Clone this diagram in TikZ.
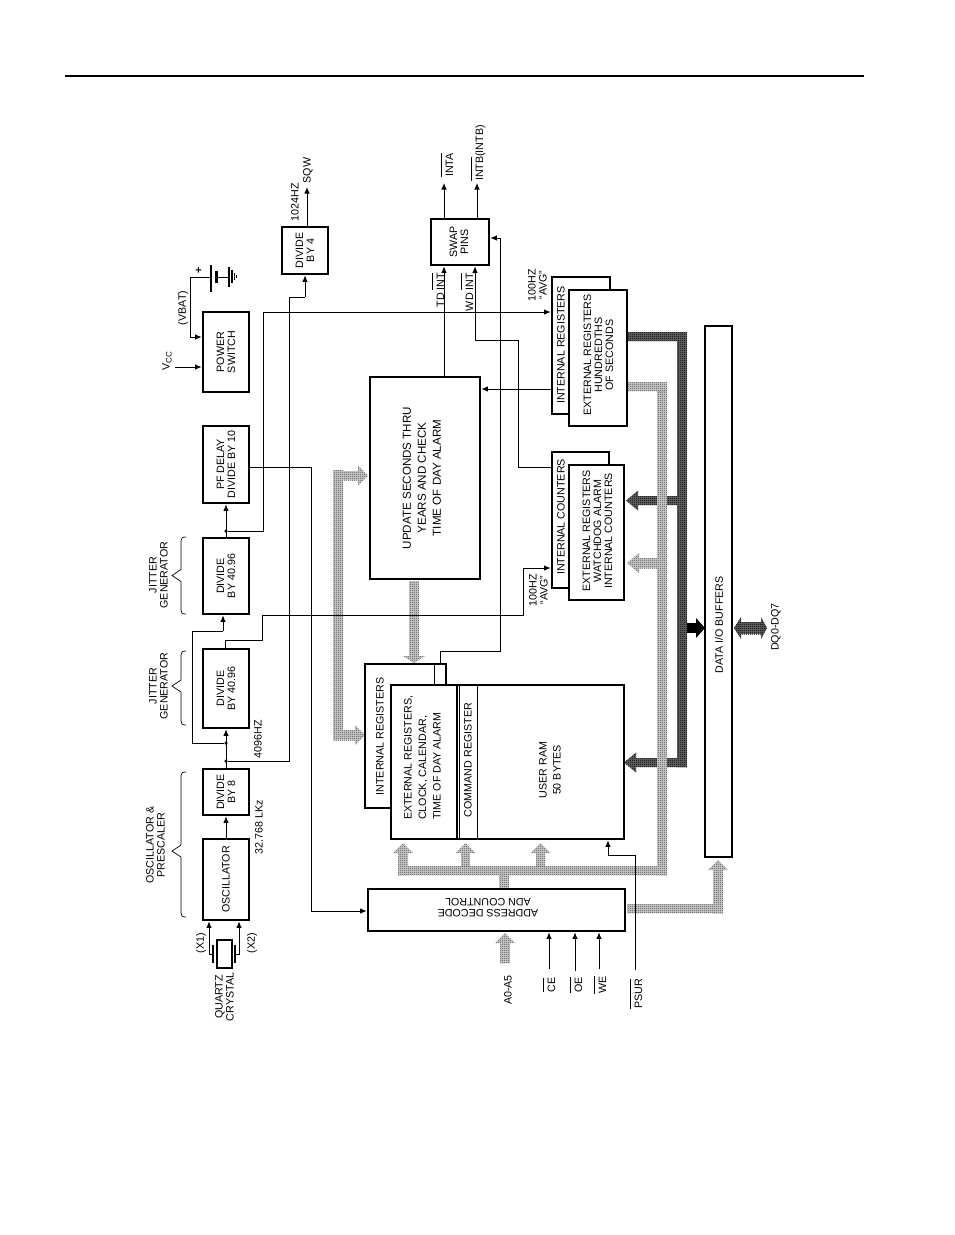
\documentclass[tikz,border=0pt]{standalone}
\usepackage{fontspec}
\setmainfont{Liberation Sans}
\usetikzlibrary{arrows.meta,patterns}
\pgfdeclarepatternformonly{chk}{\pgfqpoint{0pt}{0pt}}{\pgfqpoint{2pt}{2pt}}{\pgfqpoint{2pt}{2pt}}{%
  \pgfpathrectangle{\pgfqpoint{0pt}{0pt}}{\pgfqpoint{1pt}{1pt}}%
  \pgfpathrectangle{\pgfqpoint{1pt}{1pt}}{\pgfqpoint{1pt}{1pt}}%
  \pgfusepath{fill}}
\newcommand{\ovl}[1]{\setbox0=\hbox{#1}\leavevmode\rlap{\raisebox{1.55\ht0}{\rule{\wd0}{0.8pt}}}\box0}
\newcommand{\blk}[6][]{%
  \pgfmathsetmacro{\cxv}{(#3+#5)/2}\pgfmathsetmacro{\cyv}{(#4+#6)/2}%
  \pgfmathsetmacro{\wdv}{#5-#3}\pgfmathsetmacro{\htv}{#6-#4}%
  \node[blkbox,#1,minimum width=\wdv pt,minimum height=\htv pt] (#2) at (\cxv,\cyv) {};}
\newcommand{\brce}[3]{% y1 y2 tip y
  \draw[line width=0.7pt] (186,#1) .. controls (182,#1) and (181,#1+1) .. (181,#1+4)
    -- (181,#3-6) -- (172,#3) -- (181,#3+6) -- (181,#2-4) .. controls (181,#2-1) and (182,#2) .. (186,#2);}
\newcommand{\hdup}[3]{\path[#1] (#2,#3) -- (#2-10,#3+10) -- (#2+10,#3+10) -- cycle;}
\newcommand{\hdleft}[3]{\path[#1] (#2,#3) -- (#2+12,#3-10) -- (#2+12,#3+10) -- cycle;}
\newcommand{\hdright}[3]{\path[#1] (#2,#3) -- (#2-10,#3-10) -- (#2-10,#3+10) -- cycle;}
\tikzset{
  x=1pt,y=-1pt,
  blkbox/.style={draw=black,line width=2.6pt,fill=white,inner sep=0pt},
  lbl/.style={rotate=90,align=center,inner sep=0pt,font=\fontsize{10.7}{11}\selectfont},
  wire/.style={draw=black,line width=1pt},
  arr/.style={wire,-{Latex[length=6.5pt,width=5.5pt]}},
  dotn/.style={circle,fill=black,inner sep=0pt,minimum size=3.5pt},
  lightbus/.style={preaction={fill=black!18},pattern=chk,pattern color=black!72},
  darkbus/.style={preaction={fill=black!60},pattern=chk,pattern color=black},
}
\begin{document}
\begin{tikzpicture}
\useasboundingbox (0,0) rectangle (954,1235);
\draw[line width=1.8pt] (65,76) coordinate (rl) -- (864,76) coordinate (rr);

% dark bus
\path[darkbus] (627,332) rectangle (687,341);
\path[darkbus] (677,332) rectangle (687,767);
\path[darkbus] (636,758) rectangle (687,767);
\hdleft{darkbus}{624}{762.5}
\path[darkbus] (638,496) rectangle (677,505);
\hdleft{darkbus}{626}{500.5}
\fill[black] (687,623) rectangle (696,633);
\fill[black] (705,628) -- (696,618) -- (696,638) -- cycle;
\path[darkbus] (740,622) rectangle (762,634);
\path[darkbus] (734,628) -- (741,617) -- (741,639) -- cycle;
\path[darkbus] (767,628) -- (761,617) -- (761,639) -- cycle;

% light bus
\path[lightbus] (398,866) rectangle (667,875);
\path[lightbus] (657,382) rectangle (667,875);
\path[lightbus] (627,382) rectangle (667,391);
\path[lightbus] (499,875) rectangle (509,889);
\path[lightbus] (398,853) rectangle (408,875);
\hdup{lightbus}{403}{843}
\path[lightbus] (461,853) rectangle (470,866);
\hdup{lightbus}{465.5}{843}
\path[lightbus] (536,853) rectangle (545,866);
\hdup{lightbus}{540.5}{843}
\path[lightbus] (500,941) rectangle (510,963);
\hdup{lightbus}{505}{933}
\path[lightbus] (627,904) rectangle (723,913);
\path[lightbus] (713,870) rectangle (723,913);
\hdup{lightbus}{718}{860}
\path[lightbus] (639,558) rectangle (657,568);
\hdleft{lightbus}{627}{563}
\path[lightbus] (333,470) rectangle (343,740);
\path[lightbus] (343,471) rectangle (358,480);
\hdright{lightbus}{368}{475.5}
\path[lightbus] (343,730) rectangle (355,740);
\hdright{lightbus}{365}{735}
\path[lightbus] (409,581) rectangle (419,657);
\path[lightbus] (414,663) -- (403,656) -- (425,656) -- cycle;

% wires under boxes
\coordinate (j1) at (226,761);
\coordinate (j2) at (226,743);
\coordinate (j3) at (226,531);

% blocks
\blk{osc}{203}{839}{249}{920}
\blk{divE}{203}{769}{249}{815}
\blk{divA}{203}{649}{249}{728}
\blk{divB}{203}{538}{249}{614}
\blk{pf}{203}{426}{249}{503}
\blk{psw}{203}{312}{249}{392}
\blk{divF}{282}{227}{328}{274}
\blk{swap}{431}{219}{489}{265}
\blk{upd}{370}{377}{480}{579}
\blk{adr}{368}{889}{625}{931}
\blk{data}{705}{326}{732}{857}
\blk{intR}{365}{664}{446}{808}
\blk{extR}{391}{685}{624}{839}
\blk{intH}{552}{277}{610}{414}
\blk{extH}{569}{290}{627}{426}
\blk{intC}{552}{452}{609}{588}
\blk{extC}{569}{465}{624}{600}

\draw[line width=1.6pt] (457,685) -- (457,839);
\draw[line width=1pt] (459.8,685) -- (459.8,839);
\draw[line width=1pt] (477.5,685) -- (477.5,839);
\draw[line width=1pt] (434,664) -- (434,685);

% block texts
\node[lbl] (toscs) at (226,879.5) {OSCILLATOR};
\node[lbl] (tdive) at (226,792) {DIVIDE\\BY 8};
\node[lbl] (tdiva) at (226,688.5) {DIVIDE\\BY 40.96};
\node[lbl] (tdivb) at (226,576) {DIVIDE\\BY 40.96};
\node[lbl] (tpf) at (226,464.5) {PF DELAY\\DIVIDE BY 10};
\node[lbl] (tpsw) at (226,352) {POWER\\SWITCH};
\node[lbl] (tdivf) at (305,250.5) {DIVIDE\\BY 4};
\node[lbl] (tswap) at (459,242) {SWAP\\PINS};
\node[lbl,font=\fontsize{11.6}{15}\selectfont] (tupd) at (422,478) {UPDATE SECONDS THRU\\YEARS AND CHECK\\TIME OF DAY ALARM};
\node[lbl,rotate=90] (tadr) at (488,908) {ADDRESS DECODE\\ADN COUNTROL};
\node[lbl] (tdata) at (719,625) {DATA I/O BUFFERS};
\node[lbl] (tintr) at (380,736.5) {INTERNAL REGISTERS};
\node[lbl,align=left,font=\fontsize{10.7}{14.5}\selectfont,anchor=west] (textr) at (422.5,820) {EXTERNAL REGISTERS,\\CLOCK, CALENDAR,\\TIME OF DAY ALARM};
\node[lbl] (tcmd) at (468,760) {COMMAND REGISTER};
\node[lbl,font=\fontsize{10.7}{14}\selectfont] (tram) at (550,770) {USER RAM\\50 BYTES};
\node[lbl] (tinth) at (561,345) {INTERNAL REGISTERS};
\node[lbl] (texth) at (598.5,355) {EXTERNAL REGISTERS\\HUNDREDTHS\\OF SECONDS};
\node[lbl] (tintc) at (561,517) {INTERNAL COUNTERS};
\node[lbl] (textc) at (597.5,531) {EXTERNAL REGISTERS\\WATCHDOG ALARM\\INTERNAL COUNTERS};

% free labels
\node[lbl] (lsqw) at (308,170.5) {SQW};
\node[lbl] (l1024) at (295,202) {1024HZ};
\node[lbl] (lvbat) at (183,308) {(VBAT)};
\node[lbl] (lplus) at (199,270) {\textbf{+}};
\node[lbl] (lvcc) at (167,361) {V\raisebox{-2pt}{\fontsize{8}{8}\selectfont CC}};
\node[lbl] (ljit1) at (158.5,575) {JITTER\\GENERATOR};
\node[lbl] (ljit2) at (158.5,686) {JITTER\\GENERATOR};
\node[lbl] (losc) at (155.5,845) {OSCILLATOR \&\\PRESCALER};
\node[lbl] (l4096) at (258,739) {4096HZ};
\node[lbl] (l327) at (259,827) {32.768 LKz};
\node[lbl] (lx1) at (201,943) {(X1)};
\node[lbl] (lx2) at (252,943) {(X2)};
\node[lbl] (lqz) at (224.5,997) {QUARTZ\\CRYSTAL};
\node[lbl] (la0) at (508,990) {A0-A5};
\node[lbl] (lce) at (549,985) {\ovl{CE}};
\node[lbl] (loe) at (576,985) {\ovl{OE}};
\node[lbl] (lwe) at (600,985) {\ovl{WE}};
\node[lbl] (lps) at (636,994) {\ovl{PSUR}};
\node[lbl] (ldq) at (776,627) {DQ0-DQ7};
\node[lbl] (linta) at (447,165) {\ovl{INTA}};
\node[lbl] (lintb) at (478,153) {\ovl{INTB}(INTB)};
\node[lbl] (ltd) at (438,290) {TD \ovl{INT}};
\node[lbl] (lwd) at (467,292) {WD \ovl{INT}};
\node[lbl] (lh1) at (537.5,285) {100HZ\\``AVG''};
\node[lbl] (lh2) at (538.5,590) {100HZ\\``AVG''};

% braces
\brce{537}{614}{575.5}
\brce{651}{725}{686}
\brce{772}{917}{851}

% crystal
\node[draw=black,line width=2pt,fill=white,inner sep=0pt,minimum width=15pt,minimum height=28pt] (xtal) at (224,954) {};
\node[fill=black,inner sep=0pt,minimum width=2.5pt,minimum height=18pt] (pl1) at (213,954) {};
\node[fill=black,inner sep=0pt,minimum width=2.5pt,minimum height=18pt] (pl2) at (235,954) {};
\draw[arr] (pl1.west) -- (209,954) -- (osc.south -| 209,0);
\draw[arr] (pl2.east) -- (239,954) -- (osc.south -| 239,0);

% clock chain
\draw[arr] (osc) -- (divE);
\draw[arr] (divE) -- (divA);
\draw[arr] (divB) -- (pf);
\node[dotn] (dj1) at (j1) {};
\node[dotn] (dj2) at (j2) {};
\node[dotn] (dj3) at (j3) {};
\draw[wire] (dj2) -- (192,743) -- (192,631) -- (223,631);
\draw[arr] (223,631) -- (divB.south -| 223,0);
\draw[wire] (dj3) -- (263,531) -- (263,312) -- (520,312);
\draw[arr] (520,312) -- (intH.west |- 0,312);
\draw[wire] (dj1) -- (289,761) -- (289,297) -- (305,297);
\draw[arr] (305,297) -- (divF.south -| 305,0);
\draw[arr] (divF.north -| 307,0) -- (307,187) coordinate (sqw);
\draw[wire] (divA.north -| 225,0) -- (225,640) -- (262,640) -- (262,615) -- (523,615) -- (523,568);
\draw[arr] (523,568) -- (intC.west |- 0,568);
\draw[wire] (pf.east |- 0,467) -- (311,467) -- (311,911);
\draw[arr] (311,911) -- (adr.west |- 0,911);

% power
\draw[arr] (175,367) coordinate (vcc) -- (psw.west |- 0,367);
\draw[wire] (190,337) -- (190,277) -- (211,277);
\draw[arr] (190,337) -- (psw.west |- 0,337);
\draw[line width=1.5pt] (211,265) -- (211,292);
\draw[line width=3pt] (216,271) -- (216,283);
\draw[wire] (216,277) -- (229,277);
\draw[line width=1.8pt] (229,267) -- (229,287);
\draw[line width=1.5pt] (232,270) -- (232,283);
\draw[line width=1.5pt] (234.5,273) -- (234.5,280);
\draw[line width=1.2pt] (236.5,275) -- (236.5,278);

% interrupts
\draw[arr] (upd.north -| 444,0) -- (swap.south -| 444,0);
\draw[wire] (intC.west |- 0,467) -- (518,467) -- (518,340) -- (475,340);
\draw[arr] (475,340) -- (swap.south -| 475,0);
\draw[arr] (swap.north -| 444,0) -- (444,183) coordinate (inta);
\draw[arr] (swap.north -| 477,0) -- (477,183) coordinate (intb);
\draw[wire] (intR.north -| 440,0) -- (440,651) -- (500,651) -- (500,238);
\draw[arr] (500,238) -- (swap.east |- 0,238);
\draw[arr] (intH.west |- 0,389) -- (upd.east |- 0,389);

% address inputs
\draw[arr] (549,969) coordinate (ce) -- (adr.south -| 549,0);
\draw[arr] (575,971) coordinate (oe) -- (adr.south -| 575,0);
\draw[arr] (599,969) coordinate (we) -- (adr.south -| 599,0);
\draw[wire] (635,970) coordinate (psur) -- (635,855) -- (608,855);
\draw[arr] (608,855) -- (extR.south -| 608,0);
\end{tikzpicture}
\end{document}
